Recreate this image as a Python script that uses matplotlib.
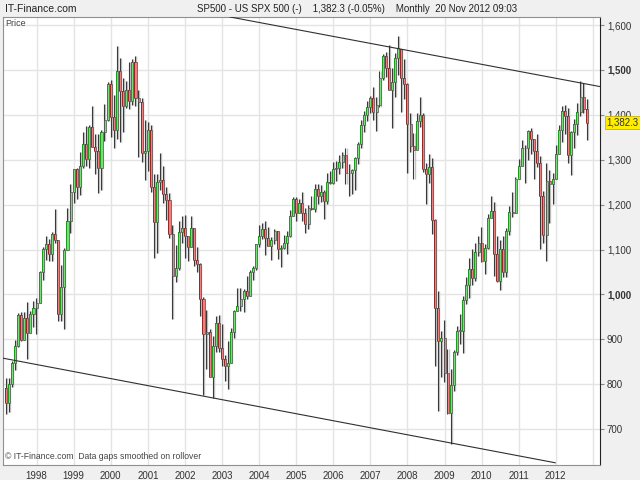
import matplotlib
matplotlib.use('Agg')
import matplotlib.pyplot as plt
from matplotlib.ticker import FuncFormatter

plt.rcParams['font.family'] = ['Liberation Sans', 'DejaVu Sans']

# monthly S&P 500 candles, Mar 1997 .. Nov 2012
start_year, start_month = 1997, 3
opens = [
    790.8, 757.1, 801.3, 848.3, 885.1, 954.3, 899.5, 947.3, 914.6, 955.4,
    970.4, 980.3, 1049.3, 1101.8, 1111.8, 1090.8, 1133.8, 1120.7, 957.3, 1017.0, 1098.7, 1163.6,
    1229.2, 1279.6, 1238.3, 1286.4, 1335.2, 1301.8, 1372.7, 1328.7, 1320.4, 1282.7, 1362.9, 1388.9,
    1469.3, 1394.5, 1366.4, 1498.6, 1452.4, 1420.6, 1454.6, 1430.8, 1517.7, 1436.5, 1429.4, 1315.0,
    1320.3, 1366.0, 1239.9, 1160.3, 1249.5, 1255.8, 1224.4, 1211.2, 1133.6, 1040.9, 1059.8, 1139.5,
    1148.1, 1130.2, 1106.7, 1147.4, 1076.9, 1067.1, 989.8, 911.6, 916.1, 815.3, 885.8, 936.3,
    879.8, 855.7, 841.2, 848.2, 916.9, 963.6, 974.5, 990.3, 1008.0, 996.0, 1050.7, 1058.2,
    1111.9, 1131.1, 1144.9, 1126.2, 1107.3, 1120.7, 1140.8, 1101.7, 1104.2, 1114.6, 1130.2, 1173.8,
    1211.9, 1181.3, 1203.6, 1180.6, 1156.9, 1191.5, 1191.3, 1234.2, 1220.3, 1228.8, 1207.0, 1249.5,
    1248.3, 1280.1, 1280.7, 1294.8, 1310.6, 1270.1, 1270.2, 1276.7, 1303.8, 1335.9, 1377.9, 1400.6,
    1418.3, 1438.2, 1406.8, 1420.9, 1482.4, 1530.6, 1503.4, 1455.3, 1474.0, 1526.8, 1545.8, 1481.1,
    1468.4, 1378.6, 1330.6, 1322.7, 1385.6, 1400.4, 1280.0, 1267.4, 1282.8, 1166.4, 968.8, 896.2,
    903.3, 825.9, 735.1, 797.9, 872.8, 919.1, 919.3, 987.5, 1020.6, 1057.1, 1036.2, 1095.6,
    1115.1, 1073.9, 1104.5, 1169.4, 1186.7, 1089.4, 1030.7, 1101.6, 1049.3, 1141.2, 1183.3, 1180.6,
    1257.6, 1286.1, 1327.2, 1325.8, 1363.6, 1345.2, 1320.6, 1292.3, 1218.9, 1131.4, 1253.3, 1247.0,
    1257.6, 1312.4, 1365.7, 1408.5, 1397.9, 1310.3, 1362.2, 1379.3, 1406.6, 1440.7, 1412.2,
]
highs = [
    814.9, 812.9, 851.9, 898.7, 957.7, 961.1, 960.3, 983.1, 963.8, 986.3,
    992.7, 1051.7, 1105.7, 1130.5, 1123.9, 1138.5, 1190.6, 1121.6, 1066.1, 1102.6, 1193.0, 1244.9,
    1280.5, 1281.4, 1316.6, 1362.8, 1376.0, 1378.2, 1420.3, 1357.1, 1357.2, 1366.7, 1424.5, 1473.1,
    1478.0, 1444.6, 1552.9, 1527.2, 1481.5, 1474.8, 1517.3, 1525.2, 1530.1, 1454.8, 1438.5, 1389.1,
    1383.4, 1376.4, 1267.4, 1269.3, 1315.9, 1286.6, 1239.8, 1226.3, 1155.4, 1110.6, 1163.4, 1173.6,
    1176.6, 1130.2, 1173.9, 1147.8, 1106.6, 1070.7, 994.5, 965.0, 924.0, 907.4, 951.6, 954.3,
    935.1, 864.6, 895.9, 924.2, 965.4, 1015.3, 1015.4, 1011.0, 1040.3, 1053.8, 1063.7, 1112.6,
    1155.4, 1159.0, 1163.2, 1150.6, 1127.7, 1146.3, 1140.8, 1109.7, 1131.5, 1142.1, 1188.5, 1217.3,
    1217.8, 1212.4, 1229.1, 1191.9, 1199.6, 1219.6, 1245.2, 1245.9, 1243.1, 1233.3, 1270.6, 1275.8,
    1294.9, 1297.6, 1310.9, 1318.2, 1326.7, 1290.7, 1280.4, 1306.7, 1340.3, 1389.5, 1407.9, 1431.8,
    1441.6, 1461.6, 1438.9, 1498.0, 1535.6, 1540.6, 1555.9, 1503.9, 1538.7, 1576.1, 1545.8, 1523.6,
    1471.8, 1404.1, 1359.7, 1404.6, 1440.2, 1404.1, 1292.2, 1313.2, 1303.0, 1167.0, 1007.5, 918.9,
    943.9, 877.9, 833.0, 875.6, 930.2, 956.2, 996.7, 1039.5, 1080.2, 1101.4, 1113.7, 1130.4,
    1150.5, 1112.4, 1180.2, 1219.8, 1205.1, 1131.2, 1121.0, 1129.2, 1148.9, 1196.1, 1227.1, 1262.6,
    1302.7, 1344.1, 1332.3, 1367.1, 1370.6, 1345.2, 1356.5, 1307.4, 1229.3, 1292.7, 1277.6, 1269.4,
    1333.5, 1378.0, 1419.2, 1422.4, 1415.3, 1363.5, 1391.7, 1426.7, 1474.5, 1471.0, 1434.3,
]
lows = [
    733.5, 737.7, 793.2, 832.4, 882.6, 897.0, 899.5, 855.3, 914.6, 928.2,
    912.8, 980.3, 1032.3, 1076.7, 1074.7, 1074.4, 1114.3, 940.0, 939.7, 923.3, 1098.7, 1136.9,
    1203.9, 1211.6, 1221.1, 1281.5, 1287.1, 1281.4, 1328.0, 1268.4, 1225.9, 1233.7, 1341.2, 1387.4,
    1350.1, 1325.1, 1346.6, 1339.4, 1361.1, 1415.5, 1413.9, 1421.2, 1419.4, 1305.8, 1294.9, 1254.1,
    1274.6, 1228.9, 1081.2, 1092.0, 1232.0, 1203.0, 1165.5, 1124.9, 944.8, 1026.8, 1054.3, 1114.5,
    1081.7, 1074.4, 1106.7, 1063.5, 1049.0, 952.9, 775.7, 833.4, 815.3, 768.6, 872.1, 871.9,
    840.3, 806.3, 788.9, 847.9, 902.8, 963.6, 962.1, 960.8, 990.4, 996.0, 1031.2, 1053.4,
    1105.1, 1124.4, 1087.2, 1107.2, 1076.3, 1113.3, 1078.8, 1060.7, 1101.3, 1090.2, 1127.6, 1173.8,
    1163.8, 1181.0, 1163.7, 1136.2, 1146.2, 1188.3, 1183.6, 1201.1, 1205.4, 1168.2, 1201.1, 1246.6,
    1245.7, 1253.6, 1268.4, 1280.7, 1245.3, 1219.3, 1224.5, 1233.5, 1290.9, 1327.1, 1361.0, 1385.9,
    1404.0, 1389.4, 1364.0, 1416.4, 1476.7, 1484.2, 1454.3, 1370.6, 1439.3, 1489.6, 1406.1, 1435.7,
    1270.1, 1317.5, 1257.0, 1324.4, 1373.1, 1272.0, 1200.4, 1247.5, 1133.5, 839.8, 741.0, 815.7,
    804.2, 734.5, 666.8, 783.9, 866.1, 888.9, 869.3, 978.5, 992.0, 1020.0, 1029.4, 1085.9,
    1071.6, 1044.5, 1101.4, 1170.7, 1040.8, 1028.3, 1010.9, 1039.7, 1039.7, 1131.9, 1173.0, 1180.6,
    1257.6, 1286.1, 1249.1, 1299.8, 1311.8, 1258.1, 1282.9, 1101.5, 1114.2, 1074.8, 1158.7, 1202.4,
    1257.6, 1312.4, 1340.0, 1357.4, 1292.0, 1266.7, 1325.4, 1354.7, 1396.6, 1403.3, 1343.4,
]
closes = [
    757.1, 801.3, 848.3, 885.1, 954.3, 899.5, 947.3, 914.6, 955.4, 970.4,
    980.3, 1049.3, 1101.8, 1111.8, 1090.8, 1133.8, 1120.7, 957.3, 1017.0, 1098.7, 1163.6, 1229.2,
    1279.6, 1238.3, 1286.4, 1335.2, 1301.8, 1372.7, 1328.7, 1320.4, 1282.7, 1362.9, 1388.9, 1469.3,
    1394.5, 1366.4, 1498.6, 1452.4, 1420.6, 1454.6, 1430.8, 1517.7, 1436.5, 1429.4, 1315.0, 1320.3,
    1366.0, 1239.9, 1160.3, 1249.5, 1255.8, 1224.4, 1211.2, 1133.6, 1040.9, 1059.8, 1139.5, 1148.1,
    1130.2, 1106.7, 1147.4, 1076.9, 1067.1, 989.8, 911.6, 916.1, 815.3, 885.8, 936.3, 879.8,
    855.7, 841.2, 848.2, 916.9, 963.6, 974.5, 990.3, 1008.0, 996.0, 1050.7, 1058.2, 1111.9,
    1131.1, 1144.9, 1126.2, 1107.3, 1120.7, 1140.8, 1101.7, 1104.2, 1114.6, 1130.2, 1173.8, 1211.9,
    1181.3, 1203.6, 1180.6, 1156.9, 1191.5, 1191.3, 1234.2, 1220.3, 1228.8, 1207.0, 1249.5, 1248.3,
    1280.1, 1280.7, 1294.8, 1310.6, 1270.1, 1270.2, 1276.7, 1303.8, 1335.9, 1377.9, 1400.6, 1418.3,
    1438.2, 1406.8, 1420.9, 1482.4, 1530.6, 1503.4, 1455.3, 1474.0, 1526.8, 1549.4, 1481.1, 1468.4,
    1378.6, 1330.6, 1322.7, 1385.6, 1400.4, 1280.0, 1267.4, 1282.8, 1166.4, 968.8, 896.2, 903.3,
    825.9, 735.1, 797.9, 872.8, 919.1, 919.3, 987.5, 1020.6, 1057.1, 1036.2, 1095.6, 1115.1,
    1073.9, 1104.5, 1169.4, 1186.7, 1089.4, 1030.7, 1101.6, 1049.3, 1141.2, 1183.3, 1180.6, 1257.6,
    1286.1, 1327.2, 1325.8, 1363.6, 1345.2, 1320.6, 1292.3, 1218.9, 1131.4, 1253.3, 1247.0, 1257.6,
    1312.4, 1365.7, 1408.5, 1397.9, 1310.3, 1362.2, 1379.3, 1406.6, 1440.7, 1412.2, 1382.3,
]

# channel lines (month index, price)
upper_line = [(72.6, 1618.0), (192.3, 1463.0)]
lower_line = [(-0.9, 858.0), (177.8, 625.0)]

years = list(range(1998, 2014))
price_ticks = [700, 800, 900, 1000, 1100, 1200, 1300, 1400, 1500, 1600]

fig = plt.figure(figsize=(6.4, 4.8), dpi=100, facecolor='#f0f0f0')
ax = fig.add_axes([3 / 640, 15 / 480, 597 / 640, 448 / 480])
ax.set_facecolor('white')

w = 0.66
for i, (o, h, l, c) in enumerate(zip(opens, highs, lows, closes)):
    ax.vlines(i + 0.28, l, h, color='#c4c4c4', lw=1.0, zorder=2)
    ax.vlines(i - 0.05, l, h, color='#3a3a3a', lw=0.8, zorder=2)
    up = c >= o
    dark = '#1c9c1c' if up else '#9a2626'
    light = '#78dc78' if up else '#ec8080'
    bot, ht = min(o, c), max(abs(c - o), 1.2)
    ax.bar(i - w / 2, ht, width=w, bottom=bot, align='edge', color=light,
           edgecolor='#505050', lw=0.5, zorder=3)
    ax.bar(i - w / 2, ht, width=w * 0.45, bottom=bot, align='edge', color=dark,
           lw=0, zorder=3)

for pts in (upper_line, lower_line):
    ax.plot([p[0] for p in pts], [p[1] for p in pts], color='#303030', lw=0.8, zorder=4)

xt = [(y - start_year) * 12 + (1 - start_month) for y in years]
ax.set_xticks(xt)
ax.set_xticklabels([str(y) if y < 2013 else '' for y in years], fontsize=7, color='#333333')
ax.set_xlim(-0.87, 192.3)
ax.set_ylim(620, 1618)
ax.set_yticks(price_ticks)
ax.yaxis.tick_right()
ax.yaxis.set_major_formatter(FuncFormatter(lambda v, p: f'{int(v):,}'))
for lab in ax.get_yticklabels():
    lab.set_fontsize(7)
    lab.set_color('#333333')
    if lab.get_text() in ('1,000', '1,500'):
        lab.set_fontweight('bold')
ax.tick_params(axis='x', length=0, pad=4)
ax.tick_params(axis='y', length=3, color='#888888', pad=2)
ax.grid(True, color='#e4e4e4', lw=1.0, zorder=0)
ax.set_axisbelow(True)
for s in ('left', 'top', 'bottom'):
    ax.spines[s].set_color('#909090')
ax.spines['right'].set_color('#222222')

# last price marker (drawn over the 1,400 label, as in the source)
ax.text(1.01, closes[-1], f'{closes[-1]:,.1f}', transform=ax.get_yaxis_transform(),
        fontsize=7, color='#333333', va='center', ha='left', zorder=10,
        bbox=dict(boxstyle='square,pad=0.15', fc='#ffee00', ec='#c8b400', lw=0.6))

ax.text(0.004, 0.996, 'Price', transform=ax.transAxes, fontsize=6.5, color='#444444',
        va='top', ha='left')
ax.text(0.004, 0.008, '\u00a9 IT-Finance.com  Data gaps smoothed on rollover',
        transform=ax.transAxes, fontsize=6.2, color='#444444', va='bottom', ha='left')

fig.text(5 / 640, 1 - 9 / 480, 'IT-Finance.com', fontsize=7.5, color='#222222', va='center')
fig.text(197 / 640, 1 - 9 / 480,
         'SP500 - US SPX 500 (-)    1,382.3 (-0.05%)    Monthly  20 Nov 2012 09:03',
         fontsize=7, color='#222222', va='center')

fig.savefig('out.png', dpi=100, facecolor=fig.get_facecolor())
